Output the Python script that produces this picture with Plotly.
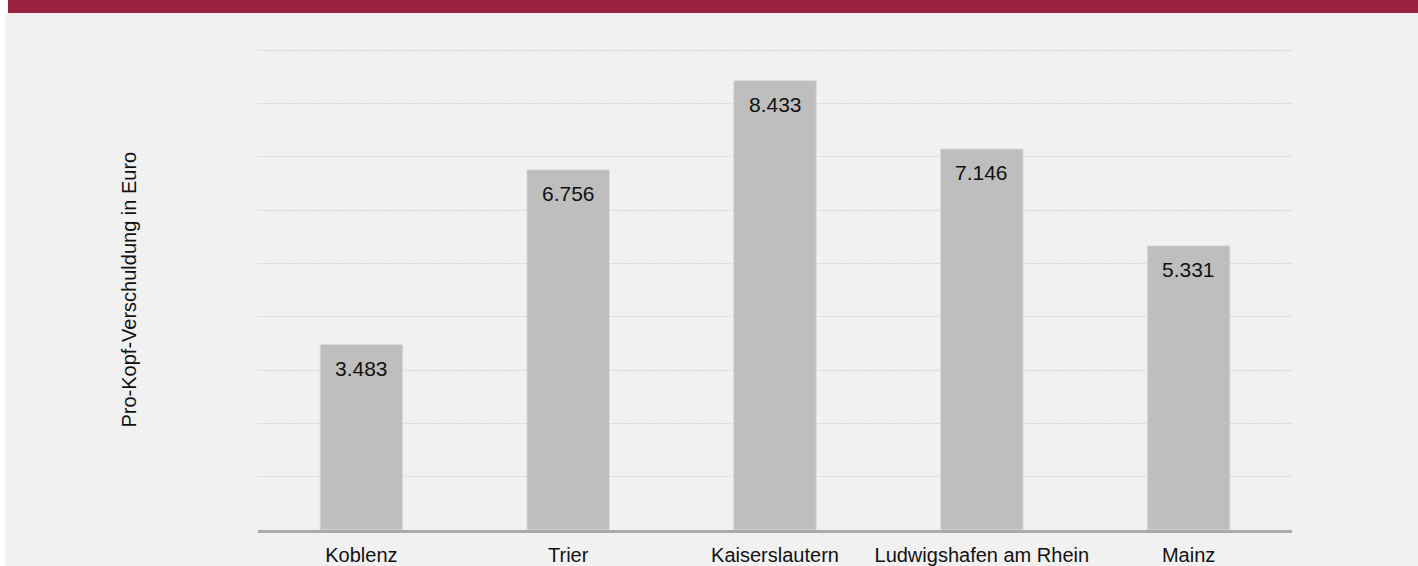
import plotly.graph_objects as go

categories = ["Koblenz", "Trier", "Kaiserslautern", "Ludwigshafen am Rhein", "Mainz"]
values = [3483, 6756, 8433, 7146, 5331]
value_labels = ["3.483", "6.756", "8.433", "7.146", "5.331"]
y_title = "Pro-Kopf-Verschuldung in Euro"

W, H = 1418, 566
L, R, T, B = 258, 126, 49, 36
pw, ph = W - L - R, H - T - B

def px_x(px):
    return (px - L) / pw

def px_y(py):
    return (H - B - py) / ph

FONT = "Liberation Sans, Arial, sans-serif"

fig = go.Figure()
fig.add_trace(go.Bar(
    x=categories, y=values,
    marker=dict(color="#bebebe", line=dict(color="#e0e0e0", width=1)),
    hoverinfo="skip",
))

for c, v, t in zip(categories, values, value_labels):
    fig.add_annotation(x=c, y=v, text=t, showarrow=False, yanchor="middle",
                       yshift=-24, font=dict(family=FONT, size=21, color="#111111"))

# background and banner
fig.add_shape(type="rect", xref="paper", yref="paper",
              x0=px_x(5), x1=px_x(W + 5), y0=px_y(H + 5), y1=px_y(13),
              fillcolor="#f1f1f1", line=dict(width=0), layer="below")
fig.add_shape(type="rect", xref="paper", yref="paper",
              x0=px_x(8), x1=px_x(W + 5), y0=px_y(13), y1=px_y(-5),
              fillcolor="#9a2340", line=dict(width=0), layer="below")

fig.update_layout(
    width=W, height=H,
    margin=dict(l=L, r=R, t=T, b=B, autoexpand=False),
    paper_bgcolor="#ffffff",
    plot_bgcolor="rgba(0,0,0,0)",
    bargap=0.6,
    showlegend=False,
    font=dict(family=FONT, size=20, color="#111111"),
    xaxis=dict(showline=True, linecolor="#aaaaaa", linewidth=3, ticks="",
               showgrid=False, tickfont=dict(size=20), automargin=False,
               ticklabelstandoff=5),
    yaxis=dict(range=[0, 9020], dtick=1000, showticklabels=False,
               showgrid=True, gridcolor="#d6d6d6", griddash="2px,1px", gridwidth=1,
               zeroline=False, automargin=False),
)
fig.add_annotation(xref="paper", yref="paper", x=px_x(128), y=0.5,
                   xanchor="center", yanchor="middle",
                   text=y_title, textangle=-90, showarrow=False,
                   font=dict(family=FONT, size=20, color="#111111"))

fig.write_html("out.html", config={"displayModeBar": False},
               post_script="document.body.style.margin='0';document.body.style.overflow='hidden';")
